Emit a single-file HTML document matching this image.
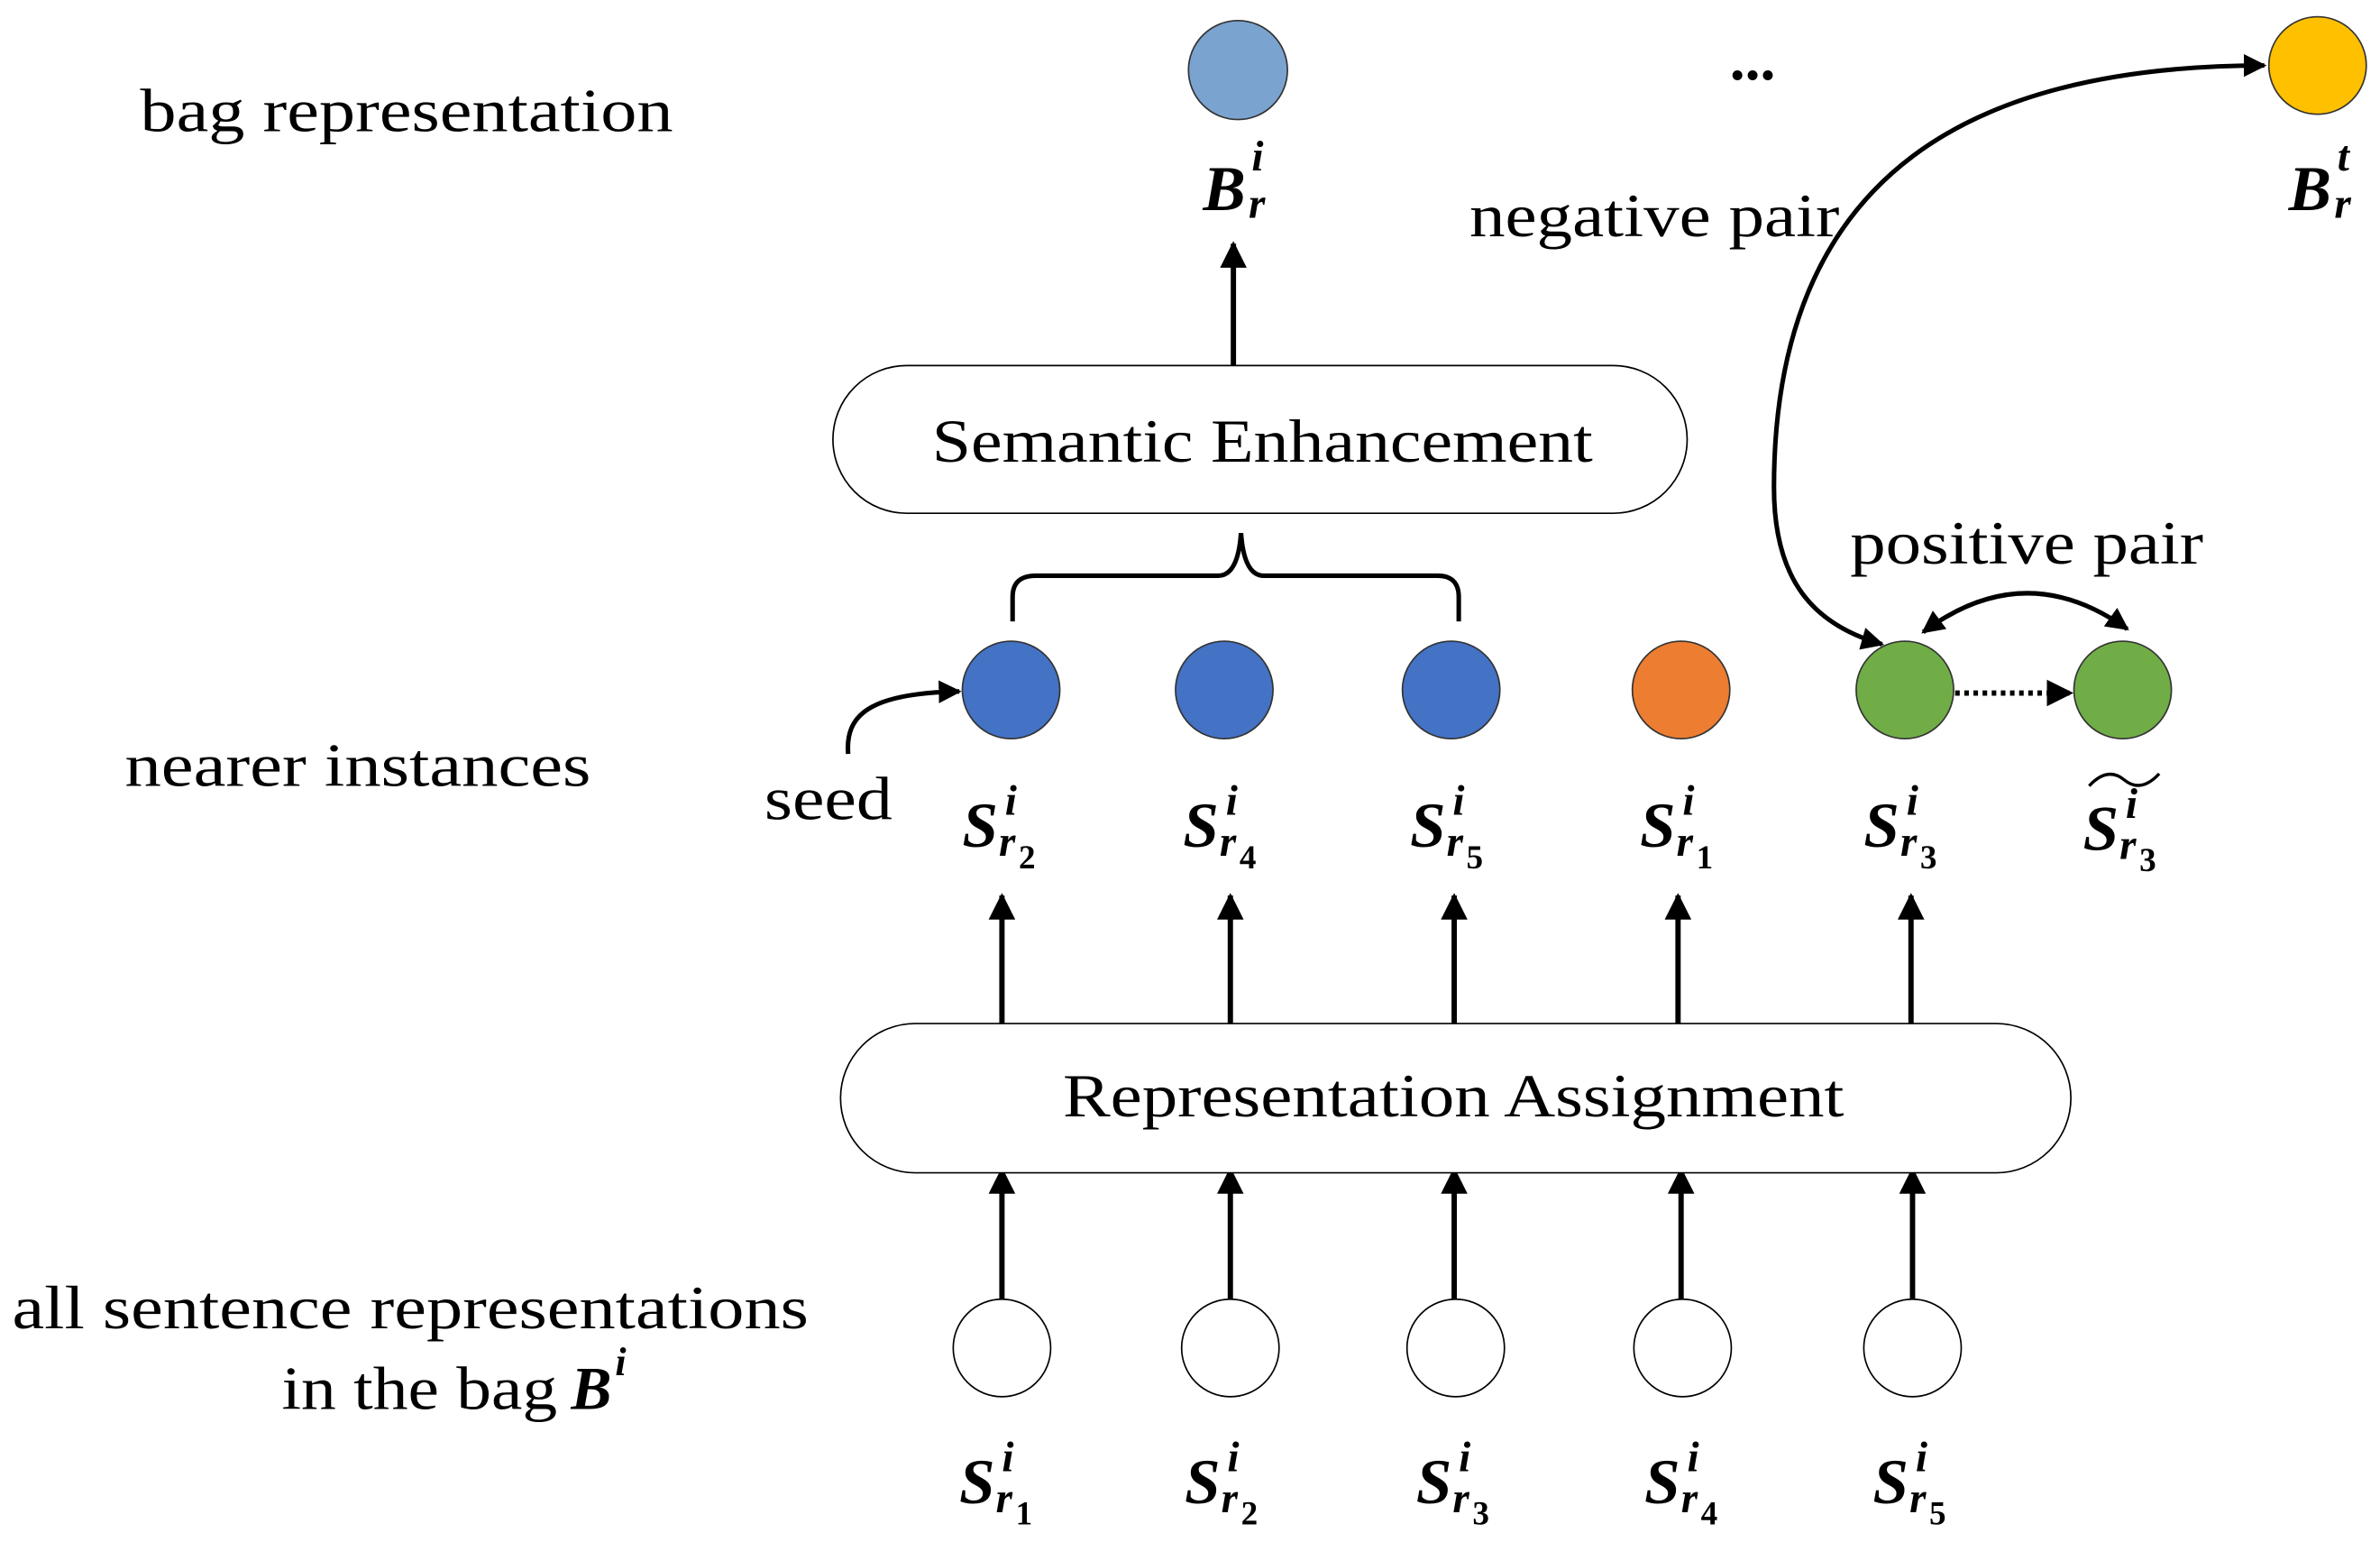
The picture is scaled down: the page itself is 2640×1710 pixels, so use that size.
<!DOCTYPE html>
<html><head><meta charset="utf-8"><style>
html,body{margin:0;padding:0;background:#fff;}
svg{display:block;}
text{font-family:"Liberation Serif",serif;fill:#000;}
.t{font-size:40px;}
.m text{font-style:italic;font-weight:bold;}
.m text.d{font-style:normal;font-weight:bold;}
</style></head><body>
<svg width="2640" height="1710" viewBox="0 0 1563 1012.4" xmlns="http://www.w3.org/2000/svg">
<defs>
<marker id="ah" viewBox="0 0 10 10" refX="9" refY="5" markerWidth="5" markerHeight="5" orient="auto-start-reverse" markerUnits="strokeWidth">
<path d="M0,0 L10,5 L0,10 z" fill="#000"/></marker>
</defs>

<text class="t" x="92" y="86" textLength="350" lengthAdjust="spacingAndGlyphs">bag representation</text>
<text class="t" x="82" y="516" textLength="306" lengthAdjust="spacingAndGlyphs">nearer instances</text>
<text class="t" x="8" y="872" textLength="523" lengthAdjust="spacingAndGlyphs">all sentence representations</text>
<text class="t" x="185" y="925" textLength="181" lengthAdjust="spacingAndGlyphs">in the bag</text>
<g class="m"><text x="375" y="925" font-size="40">B</text><text x="404" y="903" font-size="26">i</text></g>
<text class="t" x="502" y="538" textLength="84" lengthAdjust="spacingAndGlyphs">seed</text>

<circle cx="813" cy="46" r="32.5" fill="#7aa3cf" stroke="#333" stroke-width="1"/>
<g class="m"><text x="790" y="138" font-size="42">B</text><text x="822" y="112" font-size="28">i</text><text x="820" y="143" font-size="28">r</text></g>
<text x="1136" y="52" font-size="40" font-weight="bold">...</text>
<circle cx="1522" cy="43" r="32" fill="#ffc000" stroke="#333" stroke-width="1"/>
<g class="m"><text x="1503" y="138" font-size="42">B</text><text x="1535" y="112" font-size="28">t</text><text x="1533" y="143" font-size="28">r</text></g>
<text class="t" x="965" y="155" textLength="243" lengthAdjust="spacingAndGlyphs">negative pair</text>

<line x1="810" y1="240" x2="810" y2="160" stroke="#000" stroke-width="3.5" marker-end="url(#ah)"/>

<rect x="547" y="240" width="561" height="97" rx="48.5" fill="#fff" stroke="#000" stroke-width="1"/>
<text class="t" x="612" y="303" textLength="434" lengthAdjust="spacingAndGlyphs">Semantic Enhancement</text>

<path d="M665,408 L665,392 Q665,378 680,378 L800,378 Q813,378 815,350 Q817,378 830,378 L944,378 Q958,378 958,392 L958,408" fill="none" stroke="#000" stroke-width="3"/>

<circle cx="664" cy="453" r="32" fill="#4472c4" stroke="#333" stroke-width="1"/>
<circle cx="804" cy="453" r="32" fill="#4472c4" stroke="#333" stroke-width="1"/>
<circle cx="953" cy="453" r="32" fill="#4472c4" stroke="#333" stroke-width="1"/>
<circle cx="1104" cy="453" r="32" fill="#ed7d31" stroke="#333" stroke-width="1"/>
<circle cx="1251" cy="453" r="32" fill="#70ad47" stroke="#333" stroke-width="1"/>
<circle cx="1394" cy="453" r="32" fill="#70ad47" stroke="#333" stroke-width="1"/>

<line x1="1284" y1="455" x2="1360" y2="455" stroke="#000" stroke-width="3.5" stroke-dasharray="3,3" marker-end="url(#ah)"/>
<text class="t" x="1215" y="370" textLength="232" lengthAdjust="spacingAndGlyphs">positive pair</text>
<path d="M1263,415 Q1330,365 1397,413" fill="none" stroke="#000" stroke-width="3" marker-start="url(#ah)" marker-end="url(#ah)"/>
<path d="M1487,43 C1300,43 1165,110 1165,320 C1165,380 1190,410 1236,423" fill="none" stroke="#000" stroke-width="3" marker-start="url(#ah)" marker-end="url(#ah)"/>
<path d="M557,495 C555,470 570,455 630,454" fill="none" stroke="#000" stroke-width="3" marker-end="url(#ah)"/>

<g class="m">
<text x="632" y="556" font-size="42">S</text><text x="660" y="535" font-size="28">i</text><text x="656" y="562" font-size="28">r</text><text class="d" x="669" y="570" font-size="22">2</text>
<text x="777" y="556" font-size="42">S</text><text x="805" y="535" font-size="28">i</text><text x="801" y="562" font-size="28">r</text><text class="d" x="814" y="570" font-size="22">4</text>
<text x="926" y="556" font-size="42">S</text><text x="954" y="535" font-size="28">i</text><text x="950" y="562" font-size="28">r</text><text class="d" x="963" y="570" font-size="22">5</text>
<text x="1077" y="556" font-size="42">S</text><text x="1105" y="535" font-size="28">i</text><text x="1101" y="562" font-size="28">r</text><text class="d" x="1114" y="570" font-size="22">1</text>
<text x="1224" y="556" font-size="42">S</text><text x="1252" y="535" font-size="28">i</text><text x="1248" y="562" font-size="28">r</text><text class="d" x="1261" y="570" font-size="22">3</text>
<text x="1368" y="558" font-size="42">S</text><text x="1396" y="537" font-size="28">i</text><text x="1392" y="564" font-size="28">r</text><text class="d" x="1405" y="572" font-size="22">3</text>
</g>
<path d="M1372,516 Q1384,503 1395,512 Q1406,521 1418,508" fill="none" stroke="#000" stroke-width="2"/>

<g stroke="#000" stroke-width="3.5" marker-end="url(#ah)">
<line x1="658" y1="672" x2="658" y2="588"/>
<line x1="808" y1="672" x2="808" y2="588"/>
<line x1="955" y1="672" x2="955" y2="588"/>
<line x1="1102" y1="672" x2="1102" y2="588"/>
<line x1="1255" y1="672" x2="1255" y2="588"/>
<line x1="658" y1="855" x2="658" y2="768"/>
<line x1="808" y1="855" x2="808" y2="768"/>
<line x1="955" y1="855" x2="955" y2="768"/>
<line x1="1104" y1="855" x2="1104" y2="768"/>
<line x1="1256" y1="855" x2="1256" y2="768"/>
</g>

<rect x="552" y="672" width="808" height="98" rx="49" fill="#fff" stroke="#000" stroke-width="1"/>
<text class="t" x="698" y="733" textLength="513" lengthAdjust="spacingAndGlyphs">Representation Assignment</text>

<g fill="#fff" stroke="#000" stroke-width="1">
<circle cx="658" cy="885" r="32"/>
<circle cx="808" cy="885" r="32"/>
<circle cx="956" cy="885" r="32"/>
<circle cx="1105" cy="885" r="32"/>
<circle cx="1256" cy="885" r="32"/>
</g>

<g class="m">
<text x="630" y="987" font-size="42">S</text><text x="658" y="966" font-size="28">i</text><text x="654" y="993" font-size="28">r</text><text class="d" x="667" y="1001" font-size="22">1</text>
<text x="778" y="987" font-size="42">S</text><text x="806" y="966" font-size="28">i</text><text x="802" y="993" font-size="28">r</text><text class="d" x="815" y="1001" font-size="22">2</text>
<text x="930" y="987" font-size="42">S</text><text x="958" y="966" font-size="28">i</text><text x="954" y="993" font-size="28">r</text><text class="d" x="967" y="1001" font-size="22">3</text>
<text x="1080" y="987" font-size="42">S</text><text x="1108" y="966" font-size="28">i</text><text x="1104" y="993" font-size="28">r</text><text class="d" x="1117" y="1001" font-size="22">4</text>
<text x="1230" y="987" font-size="42">S</text><text x="1258" y="966" font-size="28">i</text><text x="1254" y="993" font-size="28">r</text><text class="d" x="1267" y="1001" font-size="22">5</text>
</g>
</svg>
</body></html>
